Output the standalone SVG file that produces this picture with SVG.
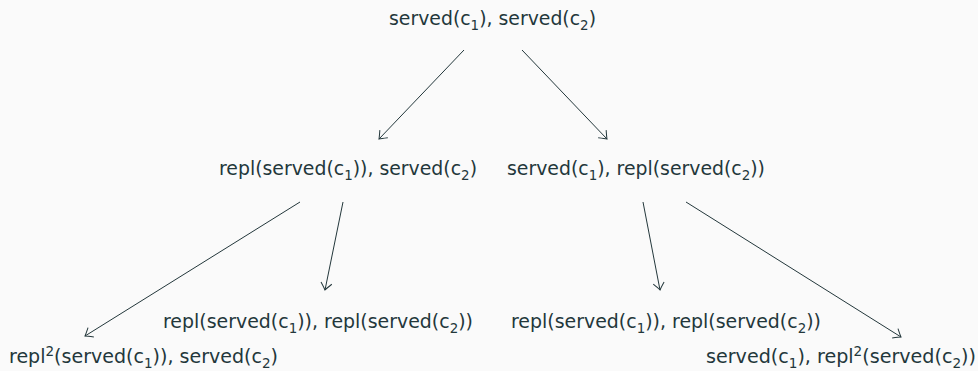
<svg xmlns="http://www.w3.org/2000/svg" width="978" height="371" viewBox="0 0 978 371">
  <defs>
    <style>
      .t { font-family: "DejaVu Sans", "Liberation Sans", sans-serif; font-size: 19px; fill: #23373b; }
      .edge { stroke: #23373b; stroke-width: 1; fill: none; marker-end: url(#to); }
    </style>
    <!-- open "to"-style arrow tip -->
    <marker id="to" viewBox="-9 -7 11 14" markerWidth="11" markerHeight="14" refX="0" refY="0" orient="auto" markerUnits="userSpaceOnUse">
      <path d="M -7,-5.5 Q -1.8,-1.2 0,0 Q -1.8,1.2 -7,5.5" stroke="#23373b" stroke-width="1" fill="none"/>
    </marker>
  </defs>
  <rect width="978" height="371" fill="#fafafa"/>

  <g id="connectors">
    <line class="edge" x1="464" y1="50" x2="379" y2="139"/>
    <line class="edge" x1="522" y1="50" x2="607" y2="139"/>
    <line class="edge" x1="300" y1="202" x2="85" y2="336"/>
    <line class="edge" x1="343" y1="202" x2="325" y2="290"/>
    <line class="edge" x1="643" y1="202" x2="660" y2="290"/>
    <line class="edge" x1="686" y1="202" x2="901" y2="337"/>
  </g>

  <g id="root">
    <text class="t" x="389" y="25" textLength="207" lengthAdjust="spacingAndGlyphs">served(c<tspan dy="4.5" font-size="13.5">1</tspan><tspan dy="-4.5">), served(c</tspan><tspan dy="4.5" font-size="13.5">2</tspan><tspan dy="-4.5">)</tspan></text>
  </g>

  <g id="left">
    <text class="t" x="219" y="175" textLength="258" lengthAdjust="spacingAndGlyphs">repl(served(c<tspan dy="4.5" font-size="13.5">1</tspan><tspan dy="-4.5">)), served(c</tspan><tspan dy="4.5" font-size="13.5">2</tspan><tspan dy="-4.5">)</tspan></text>
  </g>

  <g id="right">
    <text class="t" x="507" y="175" textLength="258" lengthAdjust="spacingAndGlyphs">served(c<tspan dy="4.5" font-size="13.5">1</tspan><tspan dy="-4.5">), repl(served(c</tspan><tspan dy="4.5" font-size="13.5">2</tspan><tspan dy="-4.5">))</tspan></text>
  </g>

  <g id="left-left">
    <text class="t" x="9" y="363" textLength="269" lengthAdjust="spacingAndGlyphs">repl<tspan dy="-7.5" font-size="13.5">2</tspan><tspan dy="7.5">(served(c</tspan><tspan dy="4.5" font-size="13.5">1</tspan><tspan dy="-4.5">)), served(c</tspan><tspan dy="4.5" font-size="13.5">2</tspan><tspan dy="-4.5">)</tspan></text>
  </g>

  <g id="left-right">
    <text class="t" x="163" y="328" textLength="310" lengthAdjust="spacingAndGlyphs">repl(served(c<tspan dy="4.5" font-size="13.5">1</tspan><tspan dy="-4.5">)), repl(served(c</tspan><tspan dy="4.5" font-size="13.5">2</tspan><tspan dy="-4.5">))</tspan></text>
  </g>

  <g id="right-left">
    <text class="t" x="511" y="328" textLength="310" lengthAdjust="spacingAndGlyphs">repl(served(c<tspan dy="4.5" font-size="13.5">1</tspan><tspan dy="-4.5">)), repl(served(c</tspan><tspan dy="4.5" font-size="13.5">2</tspan><tspan dy="-4.5">))</tspan></text>
  </g>

  <g id="right-right">
    <text class="t" x="706" y="363" textLength="270" lengthAdjust="spacingAndGlyphs">served(c<tspan dy="4.5" font-size="13.5">1</tspan><tspan dy="-4.5">), repl</tspan><tspan dy="-7.5" font-size="13.5">2</tspan><tspan dy="7.5">(served(c</tspan><tspan dy="4.5" font-size="13.5">2</tspan><tspan dy="-4.5">))</tspan></text>
  </g>
</svg>
